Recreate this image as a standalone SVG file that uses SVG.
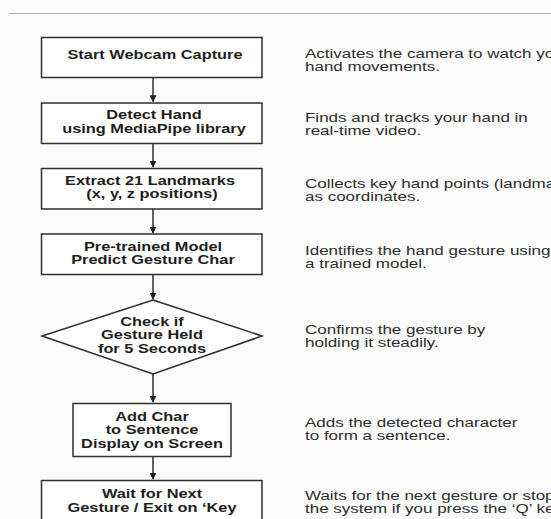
<svg xmlns="http://www.w3.org/2000/svg" width="551" height="519" viewBox="0 0 551 519">
<defs>
<marker id="ah" viewBox="0 0 10 10" refX="9" refY="5" markerWidth="7" markerHeight="7" markerUnits="userSpaceOnUse" orient="auto"><path d="M0,0 L10,5 L0,10 z" fill="#222"/></marker>
<style>
.box{fill:#fff;stroke:#2e2e2e;stroke-width:1.5}
.lbl{font-family:"Liberation Sans",Arial,sans-serif;font-weight:bold;font-size:12.5px;fill:#1e1e1e;text-anchor:middle}
.desc{font-family:"Liberation Sans",Arial,sans-serif;font-size:12.5px;fill:#2e2e2e}
.con{stroke:#222;stroke-width:1.4;fill:none;marker-end:url(#ah)}
</style>
</defs>
<rect width="551" height="519" fill="#fbfbfb"/>
<line x1="9" y1="13.5" x2="551" y2="13.5" stroke="#b0b0b0" stroke-width="1.2"/>
<g id="connectors">
<line class="con" x1="153" y1="77.5" x2="153" y2="101.5"/>
<line class="con" x1="153" y1="143.5" x2="153" y2="167"/>
<line class="con" x1="153" y1="209" x2="153" y2="233"/>
<line class="con" x1="153" y1="275" x2="153" y2="299"/>
<line class="con" x1="153" y1="374" x2="153" y2="402"/>
<line class="con" x1="153" y1="457" x2="153" y2="479"/>
</g>
<g id="n1"><rect class="box" x="41.5" y="37.5" width="220.5" height="40"/><g transform="translate(155,0) scale(1.31,1)"><text class="lbl" x="0" y="59.5">Start Webcam Capture</text></g></g>
<g id="n2"><rect class="box" x="41.5" y="103" width="220.5" height="40.5"/><g transform="translate(154,0) scale(1.31,1)"><text class="lbl" x="0" y="119.5">Detect Hand</text><text class="lbl" x="0" y="133">using MediaPipe library</text></g></g>
<g id="n3"><rect class="box" x="41.5" y="168.5" width="220.5" height="40.5"/><g transform="translate(150,0) scale(1.31,1)"><text class="lbl" x="0" y="185">Extract 21 Landmarks</text><text class="lbl" x="1.5" y="198.5">(x, y, z positions)</text></g></g>
<g id="n4"><rect class="box" x="41.5" y="234" width="220.5" height="40.5"/><g transform="translate(153,0) scale(1.31,1)"><text class="lbl" x="0" y="251">Pre-trained Model</text><text class="lbl" x="0" y="264.5">Predict Gesture Char</text></g></g>
<g id="n5"><polygon class="box" points="153,300 262,336 153,374 42,336"/><g transform="translate(152,0) scale(1.31,1)"><text class="lbl" x="0" y="326">Check if</text><text class="lbl" x="0" y="339.5">Gesture Held</text><text class="lbl" x="0" y="353">for 5 Seconds</text></g></g>
<g id="n6"><rect class="box" x="73" y="403.5" width="158" height="53"/><g transform="translate(152,0) scale(1.31,1)"><text class="lbl" x="0" y="421">Add Char</text><text class="lbl" x="0" y="434.5">to Sentence</text><text class="lbl" x="0" y="448">Display on Screen</text></g></g>
<g id="n7"><rect class="box" x="41.5" y="480.5" width="220.5" height="45"/><g transform="translate(152,0) scale(1.31,1)"><text class="lbl" x="0" y="498">Wait for Next</text><text class="lbl" x="0" y="512">Gesture / Exit on ‘Key</text></g></g>
<g id="descriptions" transform="translate(305,0) scale(1.36,1)">
<text class="desc" x="0" y="58">Activates the camera to watch your</text>
<text class="desc" x="0" y="71">hand movements.</text>
<text class="desc" x="0" y="122.5">Finds and tracks your hand in</text>
<text class="desc" x="0" y="135.5">real-time video.</text>
<text class="desc" x="0" y="188.5">Collects key hand points (landmarks)</text>
<text class="desc" x="0" y="201.5">as coordinates.</text>
<text class="desc" x="0" y="255">Identifies the hand gesture using</text>
<text class="desc" x="0" y="268.5">a trained model.</text>
<text class="desc" x="0" y="334">Confirms the gesture by</text>
<text class="desc" x="0" y="347.5">holding it steadily.</text>
<text class="desc" x="0" y="427">Adds the detected character</text>
<text class="desc" x="0" y="440">to form a sentence.</text>
<text class="desc" x="0" y="500">Waits for the next gesture or stop</text>
<text class="desc" x="0" y="513.5">the system if you press the ‘Q’ key</text>
</g>
</svg>
